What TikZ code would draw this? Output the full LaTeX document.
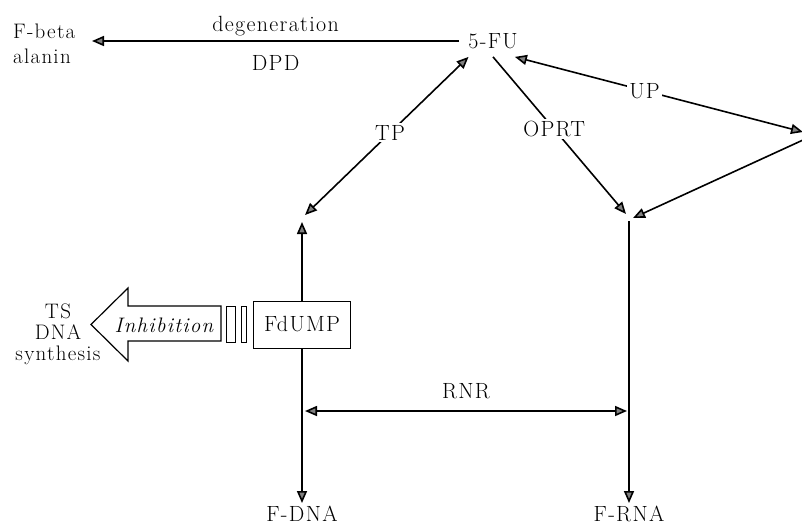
\documentclass[tikz,border=0pt]{standalone}
\usepackage{fontspec}
\setmainfont{Latin Modern Roman}[LetterSpace=6]
\usepackage{tikz}
\usetikzlibrary{arrows.meta}

\begin{document}
\begin{tikzpicture}[x=1pt,y=-1pt,
  lbl/.style={font=\fontsize{22}{25}\selectfont,inner sep=2pt},
  gap/.style={lbl,fill=white},
  endlbl/.style={lbl,anchor=north,inner ysep=3pt},
  arr/.style={-{Triangle[length=12pt,width=10pt,fill=gray]},line width=1.6pt},
  darr/.style={{Triangle[length=12pt,width=10pt,fill=gray]}-{Triangle[length=12pt,width=10pt,fill=gray]},line width=1.6pt}
]
\useasboundingbox (0,0) rectangle (802,528);

% metabolites
\node[lbl,inner xsep=9pt,inner ysep=8pt] (fu) at (493,41) {5-FU};
\node[lbl,align=left,anchor=west,inner sep=0pt,font=\fontsize{21}{25}\selectfont] (fbeta) at (13,44) {F-beta\\alanin};
\node[lbl,draw,line width=1pt,minimum width=97pt,minimum height=47pt] (fdump) at (302,324.5) {FdUMP};
\node[endlbl] (fdna) at (302,503) {F-DNA};
\node[endlbl] (frna) at (629,503) {F-RNA};
\node[lbl,align=center,font=\fontsize{21}{21}\selectfont] (ts) at (58,334) {TS\\DNA\\synthesis};

% free ends
\coordinate (dpdend) at (92,41);
\coordinate (tpend) at (305,215);
\coordinate (dnatop) at (302,222);
\coordinate (oprtend) at (626,214);
\coordinate (rnatop) at (629,221);
\coordinate (upend) at (633,218);
\coordinate (ur) at (803,136);
\coordinate (rnrL) at (305,411);
\coordinate (rnrR) at (627,411);

% enzymes
\draw[arr] (fu.west) -- node[lbl,above=2.5pt]{degeneration} node[lbl,below=12pt]{DPD} (dpdend);
\draw[darr] (fu.213) -- node[gap,pos=0.48]{TP} (tpend);
\draw[arr] (fu.south) -- node[gap,pos=0.46]{OPRT} (oprtend);
\draw[darr] ([yshift=4pt]ur) -- node[gap,pos=0.55]{UP} (fu.-36);
\draw[arr] ([yshift=-4pt]ur) -- (upend);
\draw[arr] (fdump.north) -- (dnatop);
\draw[arr] (fdump.south) -- (fdna.north);
\draw[arr] (rnatop) -- (frna.north);
\draw[darr] (rnrL) -- node[lbl,above=9pt]{RNR} (rnrR);

% inhibition
\draw[line width=1.2pt] (221,306) -- (128,306) -- (128,288) -- (91,324.5) -- (128,361) -- (128,341) -- (221,341) -- cycle;
\node[lbl,font=\fontsize{21}{23}\selectfont\itshape] (inh) at (164,325) {Inhibition};
\draw[line width=1pt] (226,306) rectangle (235,342);
\draw[line width=1pt] (241,306) rectangle (246,342);
\end{tikzpicture}
\end{document}
